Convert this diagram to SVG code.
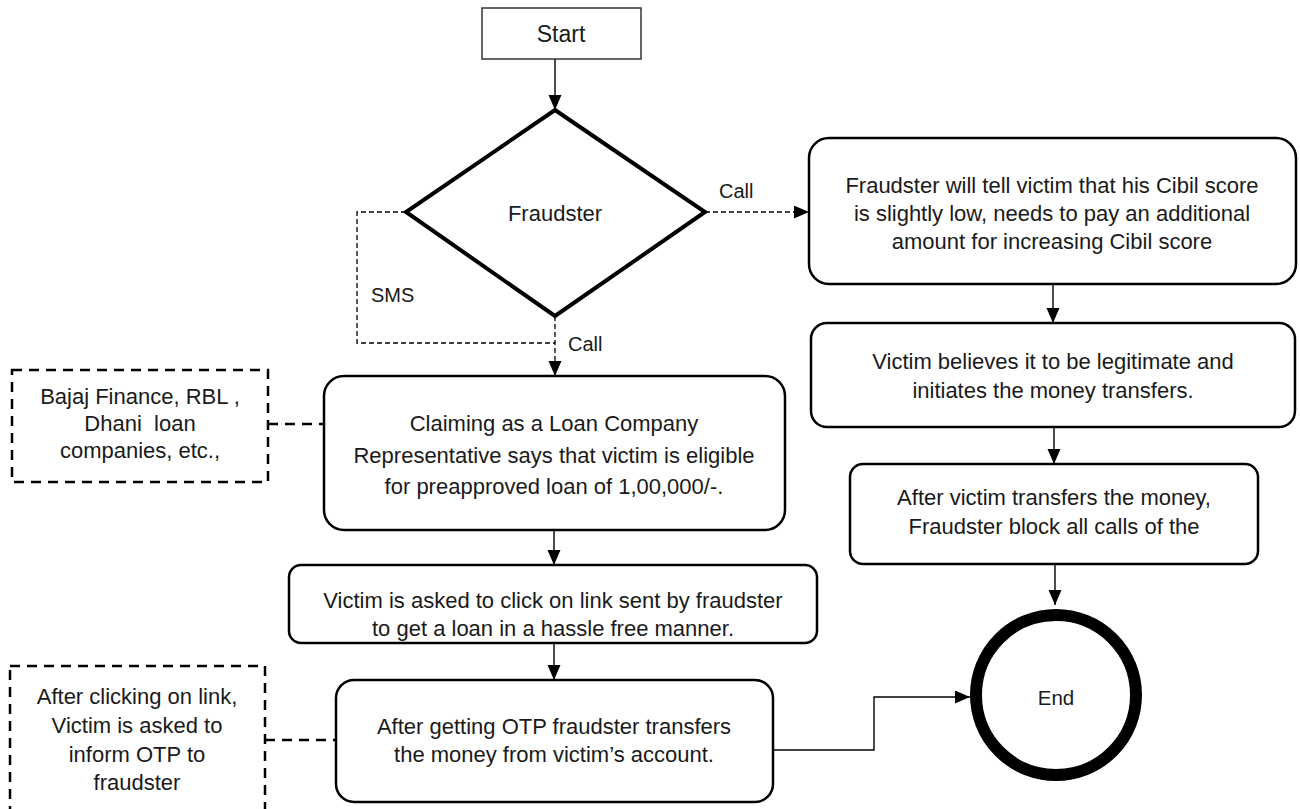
<svg xmlns="http://www.w3.org/2000/svg" width="1300" height="809" viewBox="0 0 1300 809">
  <style>
    text { font-family: "Liberation Sans", Arial, sans-serif; fill: #1a1a1a; text-anchor: middle; }
    .t { font-size: 22px; }
    .lbl { font-size: 20px; text-anchor: start; }
    .box { fill: #fff; stroke: #000; stroke-width: 2.5; }
    .note { fill: #fff; stroke: #000; stroke-width: 2.5; stroke-dasharray: 10 7; }
    .flow { fill: none; stroke: #000; stroke-width: 1.4; }
    .thin-dash { fill: none; stroke: #000; stroke-width: 1.3; stroke-dasharray: 5 3; }
    .link-dash { fill: none; stroke: #000; stroke-width: 2.5; stroke-dasharray: 10 7; }
  </style>
  <defs>
    <marker id="arrow" markerUnits="userSpaceOnUse" markerWidth="16" markerHeight="14" refX="15" refY="6.5" orient="auto">
      <path d="M0,0 L15,6.5 L0,13 z" fill="#000"/>
    </marker>
  </defs>

  <rect width="1300" height="809" fill="#fff"/>

  <!-- connectors -->
  <g id="connectors">
    <line class="flow" x1="555" y1="59" x2="555" y2="110" marker-end="url(#arrow)"/>
    <line class="thin-dash" x1="705" y1="212" x2="809" y2="212" marker-end="url(#arrow)"/>
    <path class="thin-dash" d="M406,212 H357 V343 H555"/>
    <line class="thin-dash" x1="555" y1="316" x2="555" y2="376" marker-end="url(#arrow)"/>
    <line class="flow" x1="554" y1="530" x2="554" y2="565" marker-end="url(#arrow)"/>
    <line class="flow" x1="554" y1="643" x2="554" y2="680" marker-end="url(#arrow)"/>
    <path class="flow" d="M773,750 H874 V697 H970" marker-end="url(#arrow)"/>
    <line class="flow" x1="1053" y1="284" x2="1053" y2="323" marker-end="url(#arrow)"/>
    <line class="flow" x1="1054" y1="427" x2="1054" y2="464" marker-end="url(#arrow)"/>
    <line class="flow" x1="1055" y1="564" x2="1055" y2="605" marker-end="url(#arrow)"/>
    <line class="link-dash" x1="268" y1="424" x2="323" y2="424"/>
    <line class="link-dash" x1="265" y1="740" x2="336" y2="740"/>
    <text class="lbl" x="719" y="198">Call</text>
    <text class="lbl" x="371" y="302">SMS</text>
    <text class="lbl" x="568" y="351">Call</text>
  </g>

  <g id="start">
    <rect x="482" y="8" width="159" height="51" fill="#fff" stroke="#333" stroke-width="1.5"/>
    <text x="561" y="42" style="font-size:23px">Start</text>
  </g>

  <g id="fraudster">
    <polygon points="555,110 705,212 555,316 406,212" fill="#fff" stroke="#000" stroke-width="4"/>
    <text class="t" x="555" y="221">Fraudster</text>
  </g>

  <g id="claim">
    <rect class="box" x="324" y="376" width="461" height="154" rx="20"/>
    <text class="t" x="554" y="431">Claiming as a Loan Company</text>
    <text class="t" x="554" y="462.5">Representative says that victim is eligible</text>
    <text class="t" x="554" y="493.5">for preapproved loan of 1,00,000/-.</text>
  </g>

  <g id="click-link">
    <rect class="box" x="289" y="565" width="528" height="78" rx="12"/>
    <text class="t" x="553" y="607.5">Victim is asked to click on link sent by fraudster</text>
    <text class="t" x="553" y="635.5">to get a loan in a hassle free manner.</text>
  </g>

  <g id="otp-transfer">
    <rect class="box" x="336" y="680" width="437" height="122" rx="18"/>
    <text class="t" x="554" y="733.5">After getting OTP fraudster transfers</text>
    <text class="t" x="554" y="761.5">the money from victim’s account.</text>
  </g>

  <g id="companies">
    <rect class="note" x="12" y="370" width="256" height="112"/>
    <text class="t" x="140" y="404">Bajaj Finance, RBL ,</text>
    <text class="t" x="140" y="430.5" xml:space="preserve">Dhani  loan</text>
    <text class="t" x="140" y="457.5">companies, etc.,</text>
  </g>

  <g id="otp-note">
    <rect class="note" x="10" y="666" width="255" height="160"/>
    <text class="t" x="137" y="704">After clicking on link,</text>
    <text class="t" x="137" y="733">Victim is asked to</text>
    <text class="t" x="137" y="762">inform OTP to</text>
    <text class="t" x="137" y="790">fraudster</text>
  </g>

  <g id="cibil">
    <rect class="box" x="809" y="138" width="487" height="146" rx="20"/>
    <text class="t" x="1052" y="192.5">Fraudster will tell victim that his Cibil score</text>
    <text class="t" x="1052" y="220.5">is slightly low, needs to pay an additional</text>
    <text class="t" x="1052" y="248.5">amount for increasing Cibil score</text>
  </g>

  <g id="believes">
    <rect class="box" x="811" y="323" width="484" height="104" rx="16"/>
    <text class="t" x="1053" y="369">Victim believes it to be legitimate and</text>
    <text class="t" x="1053" y="397.5">initiates the money transfers.</text>
  </g>

  <g id="block-calls">
    <rect class="box" x="850" y="464" width="408" height="100" rx="13"/>
    <text class="t" x="1054" y="505">After victim transfers the money,</text>
    <text class="t" x="1054" y="534">Fraudster block all calls of the</text>
  </g>

  <g id="end">
    <circle cx="1056" cy="695" r="80" fill="#fff" stroke="#000" stroke-width="12"/>
    <text x="1056" y="705" style="font-size:20.5px">End</text>
  </g>
</svg>
